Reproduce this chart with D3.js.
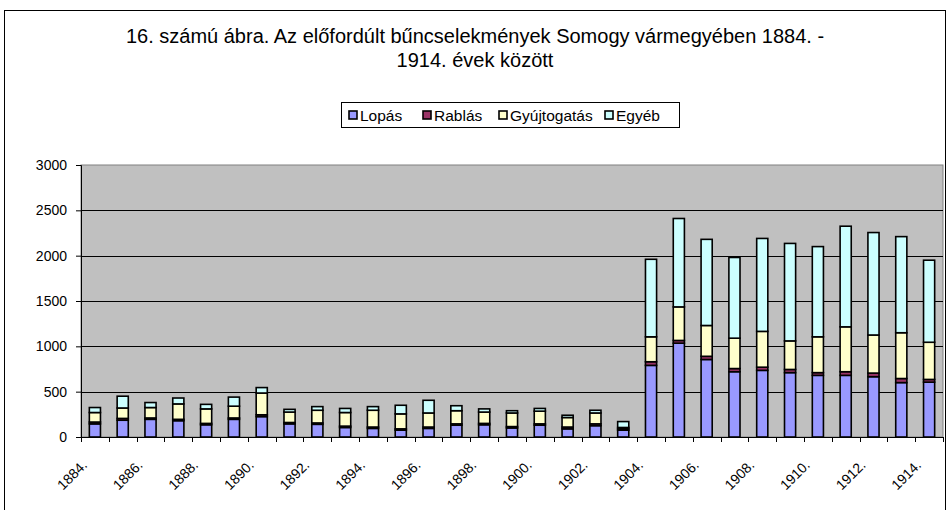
<!DOCTYPE html>
<html><head><meta charset="utf-8">
<script src="https://cdn.jsdelivr.net/npm/d3@7"></script>
<style>body{margin:0;background:#fff;} svg{display:block;font-family:Arial,"Liberation Sans",sans-serif;}</style>
</head><body>
<svg id="c" width="950" height="510"></svg>
<script>
const years = ["1884.","1885.","1886.","1887.","1888.","1889.","1890.","1891.","1892.","1893.","1894.","1895.","1896.","1897.","1898.","1899.","1900.","1901.","1902.","1903.","1904.","1905.","1906.","1907.","1908.","1909.","1910.","1911.","1912.","1913.","1914."];
const seriesNames = ["Lopás","Rablás","Gyújtogatás","Egyéb"];
const lopas =       [145,185,195,180,135,195,225,145,140,105, 95, 75, 95,130,135,100,130, 90,125, 75, 790,1035, 855, 720, 735, 710, 680, 680, 665, 600, 605];
const rablas =      [ 20, 20, 15, 15, 15, 15, 20, 15, 15, 15, 15, 15, 15, 15, 15, 15, 15, 20, 20, 15,  40,  30,  35,  35,  35,  35,  30,  40,  40,  45,  30];
const gyujtogatas = [105,115,115,170,160,130,240,115,140,150,185,165,155,145,125,150,140,105,120, 15, 275, 370, 340, 335, 395, 315, 395, 495, 420, 505, 410];
const egyeb =       [ 55,130, 55, 65, 50,100, 60, 30, 40, 45, 40, 95,140, 55, 35, 25, 30, 25, 30, 65, 855, 975, 950, 890,1025,1075, 995,1110,1130,1060, 905];
const yTicks = [0,500,1000,1500,2000,2500,3000];
const xLabels = ["1884.","1886.","1888.","1890.","1892.","1894.","1896.","1898.","1900.","1902.","1904.","1906.","1908.","1910.","1912.","1914."];
const colors = ["#9999FF","#993366","#FFFFCC","#CCFFFF"];

const svg = d3.select("#c");
// chart border
svg.append("rect").attr("x",4.5).attr("y",10.5).attr("width",941).attr("height",520)
  .attr("fill","#fff").attr("stroke","#000").attr("stroke-width",1);

const L=81, R=943, T=165, B=437;
const x = d3.scaleBand().domain(years).range([L,R]).paddingInner(0.6).paddingOuter(0.3);
const y = d3.scaleLinear().domain([0,3000]).range([B,T]);

// plot area
svg.append("rect").attr("x",L).attr("y",T).attr("width",R-L).attr("height",B-T)
  .attr("fill","#C0C0C0").attr("stroke","#808080").attr("stroke-width",1);

// gridlines
svg.append("g").selectAll("line").data(yTicks.filter(d=>d>0&&d<3000)).join("line")
  .attr("x1",L).attr("x2",R).attr("y1",d=>Math.round(y(d))+0.5).attr("y2",d=>Math.round(y(d))+0.5)
  .attr("stroke","#000").attr("stroke-width",1);

// stacked data
const table = years.map((yr,i)=>({year:yr, "Lopás":lopas[i], "Rablás":rablas[i], "Gyújtogatás":gyujtogatas[i], "Egyéb":egyeb[i]}));
const stack = d3.stack().keys(seriesNames)(table);

svg.append("g").selectAll("g").data(stack).join("g")
  .attr("fill",(d,i)=>colors[i])
  .selectAll("rect").data(d=>d).join("rect")
  .attr("x",d=>x(d.data.year))
  .attr("width",x.bandwidth())
  .attr("y",d=>y(d[1]))
  .attr("height",d=>y(d[0])-y(d[1]))
  .attr("stroke","#000").attr("stroke-width",1.6);

// y axis
const yAxis = d3.axisLeft(y).tickValues(yTicks).tickSize(5).tickPadding(9).tickFormat(d3.format("d"));
const ya = svg.append("g").attr("transform",`translate(${L},0)`).call(yAxis);
ya.select(".domain").attr("stroke","#000");
ya.selectAll(".tick line").attr("stroke","#000");
ya.selectAll("text").attr("font-size",14).attr("fill","#000").attr("font-family","Arial, 'Liberation Sans', sans-serif");

// x axis
svg.append("line").attr("x1",L).attr("x2",R+1).attr("y1",B+0.5).attr("y2",B+0.5).attr("stroke","#000");
const step = x.step();
const boundaries = d3.range(years.length+1).map(i=>L+i*step);
svg.append("g").selectAll("line").data(boundaries).join("line")
  .attr("x1",d=>Math.round(d)+0.5).attr("x2",d=>Math.round(d)+0.5)
  .attr("y1",B).attr("y2",B+5).attr("stroke","#000");
svg.append("g").selectAll("text").data(xLabels).join("text")
  .attr("transform",d=>`translate(${x(d)+x.bandwidth()/2-7},${B+29}) rotate(-45)`)
  .attr("text-anchor","end").attr("font-size",14).attr("fill","#000")
  .text(d=>d);

// title
const title = svg.append("text").attr("x",475).attr("text-anchor","middle").attr("font-size",20).attr("fill","#000");
title.append("tspan").attr("x",475).attr("y",43).text("16. számú ábra. Az előfordúlt bűncselekmények Somogy vármegyében 1884. -");
title.append("tspan").attr("x",475).attr("y",67).text("1914. évek között");

// legend
const lg = svg.append("g");
lg.append("rect").attr("x",341.5).attr("y",102.5).attr("width",338).attr("height",25).attr("fill","#fff").attr("stroke","#000");
const legX = [349, 423, 499, 605];
seriesNames.forEach((n,i)=>{
  lg.append("rect").attr("x",legX[i]).attr("y",111).attr("width",8).attr("height",8)
    .attr("fill",colors[i]).attr("stroke","#000").attr("stroke-width",1.6);
  lg.append("text").attr("x",legX[i]+11).attr("y",120.5).attr("font-size",15.5).attr("fill","#000").text(n);
});
</script>
</body></html>
